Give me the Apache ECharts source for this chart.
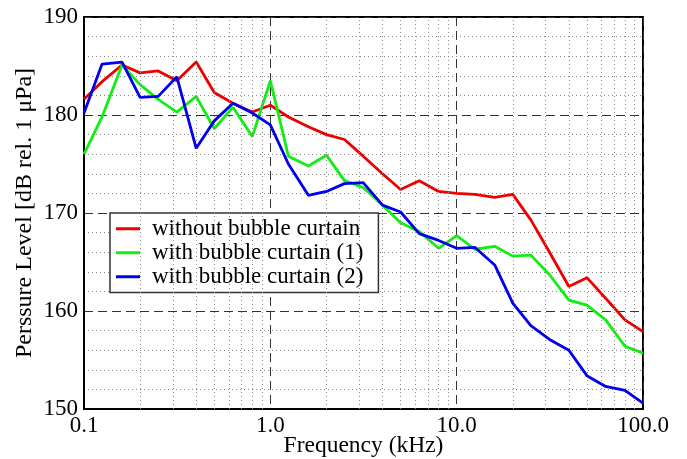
<!DOCTYPE html>
<html><head><meta charset="utf-8">
<script src="https://cdn.jsdelivr.net/npm/echarts@6/dist/echarts.min.js"></script>
<style>html,body{margin:0;padding:0;background:#fff}#c{width:687px;height:459px}</style>
</head><body><div id="c"></div>
<script>
const freq = [0.1,0.125,0.16,0.2,0.25,0.315,0.4,0.5,0.63,0.8,1,1.25,1.6,2,2.5,3.15,4,5,6.3,8,10,12.5,16,20,25,31.5,40,50,63,80,100];
const red = [181.6,183.4,185.1,184.3,184.5,183.5,185.4,182.3,181.2,180.3,181.0,179.8,178.8,178.0,177.5,175.8,174.0,172.4,173.3,172.2,172.0,171.9,171.6,171.9,169.3,166.0,162.5,163.4,161.3,159.1,157.9];
const green = [176.0,179.8,185.1,183.1,181.6,180.3,181.9,178.6,180.8,177.8,183.5,175.8,174.8,175.9,173.3,172.6,170.8,169.0,168.1,166.4,167.7,166.3,166.6,165.6,165.7,163.7,161.1,160.6,159.1,156.4,155.7];
const blue = [180.2,185.2,185.4,181.8,181.9,183.9,176.6,179.4,181.2,180.2,179.0,175.0,171.8,172.2,173.0,173.1,170.8,170.1,167.9,167.2,166.4,166.5,164.7,160.8,158.5,157.1,156.0,153.4,152.3,151.9,150.6];
const seriesNames = ['without bubble curtain','with bubble curtain (1)','with bubble curtain (2)'];
const xTicks = [0.1,1,10,100];
const xTickLabels = ['0.1','1.0','10.0','100.0'];
const xMinor = [0.2,0.3,0.4,0.5,0.6,0.7,0.8,0.9,2,3,4,5,6,7,8,9,20,30,40,50,60,70,80,90];

const font = '"Liberation Serif","DejaVu Serif",serif';
const pair = (ys) => freq.map((f,i)=>[f, ys[i]]);
const chart = echarts.init(document.getElementById('c'));
chart.setOption({
  animation:false,
  backgroundColor:'#fff',
  grid:{left:84,right:44,top:17,bottom:50,outerBoundsMode:'none',containLabel:false,show:true,borderColor:'#000',borderWidth:2},
  xAxis:{type:'log',logBase:10,min:0.1,max:100,
    name:'Frequency (kHz)',nameLocation:'middle',nameGap:25,nameMoveOverlap:false,
    nameTextStyle:{fontFamily:font,fontSize:23.5,color:'#000'},
    axisLine:{show:true,lineStyle:{color:'#000',width:2}},
    axisTick:{show:false},
    axisLabel:{fontFamily:font,fontSize:23,color:'#000',margin:5,
      formatter:(v)=>{const i=xTicks.findIndex(t=>Math.abs(t-v)/t<1e-6);return i>=0?xTickLabels[i]:'';}},
    splitLine:{show:true,lineStyle:{color:'#333',type:[9,5],width:1}}
  },
  yAxis:{type:'value',min:150,max:190,interval:10,
    name:'Perssure Level [dB rel. 1 μPa]',nameLocation:'middle',nameGap:47,nameMoveOverlap:false,
    nameTextStyle:{fontFamily:font,fontSize:24,color:'#000'},
    axisLine:{show:true,lineStyle:{color:'#000',width:2}},
    axisTick:{show:false},
    axisLabel:{fontFamily:font,fontSize:23,color:'#000',margin:6},
    splitLine:{show:true,lineStyle:{color:'#333',type:[9,5],width:1}},
    minorTick:{show:false,splitNumber:5},
    minorSplitLine:{show:true,lineStyle:{color:'#888',type:[1,3],width:1}}
  },
  legend:{show:true,orient:'vertical',left:110,top:213,
    backgroundColor:'#fff',borderColor:'#333',borderWidth:1.5,borderRadius:0,
    padding:[4,15,4,6],itemGap:0.5,itemWidth:24,itemHeight:3,icon:'rect',
    textStyle:{fontFamily:font,fontSize:23,color:'#000',lineHeight:23.5,padding:[0,0,0,7]},
    data:seriesNames},
  series:[
    {type:'line',name:'_grid',data:[],silent:true,z:1,
      markLine:{silent:true,symbol:'none',label:{show:false},animation:false,
        lineStyle:{color:'#888',type:[1,3],width:1},
        data:xMinor.map(v=>({xAxis:v}))}},
    {type:'line',name:seriesNames[0],data:pair(red),showSymbol:false,lineStyle:{color:'#ee0000',width:2.8},itemStyle:{color:'#ee0000'},z:3},
    {type:'line',name:seriesNames[1],data:pair(green),showSymbol:false,lineStyle:{color:'#11ee11',width:2.8},itemStyle:{color:'#11ee11'},z:4},
    {type:'line',name:seriesNames[2],data:pair(blue),showSymbol:false,lineStyle:{color:'#0000ee',width:2.8},itemStyle:{color:'#0000ee'},z:5}
  ]
});
</script></body></html>
